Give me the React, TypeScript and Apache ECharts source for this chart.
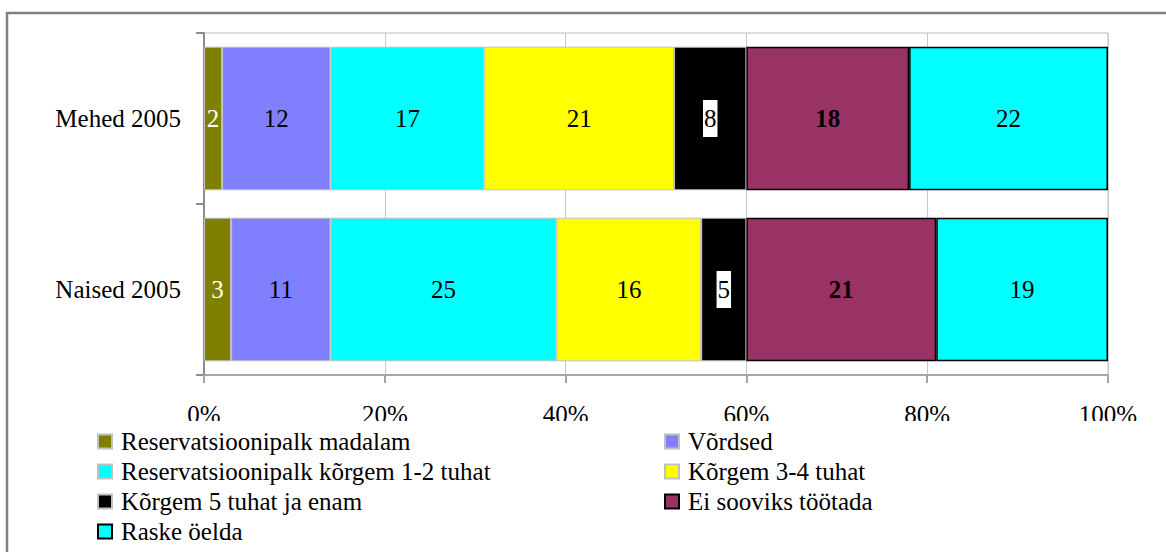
import React, { useEffect, useRef } from "react";
import * as echarts from "echarts";

const categories = ["Mehed 2005", "Naised 2005"];
const seriesNames = [
  "Reservatsioonipalk madalam",
  "Võrdsed",
  "Reservatsioonipalk kõrgem 1-2 tuhat",
  "Kõrgem 3-4 tuhat",
  "Kõrgem 5 tuhat ja enam",
  "Ei sooviks töötada",
  "Raske öelda",
];
const mehedValues = [2, 12, 17, 21, 8, 18, 22];
const naisedValues = [3, 11, 25, 16, 5, 21, 19];
const xTicks = [0, 20, 40, 60, 80, 100];

const colors = ["#808000", "#8080ff", "#00ffff", "#ffff00", "#000000", "#993366", "#00ffff"];
const borderColors = ["#c0c0c0", "#c0c0c0", "#c0c0c0", "#c0c0c0", "#c0c0c0", "#000000", "#000000"];

const FONT = "Liberation Serif";
const FS = 25;

export default function App() {
  const ref = useRef<HTMLDivElement>(null);
  useEffect(() => {
    if (!ref.current) return;
    const chart = echarts.init(ref.current, undefined, { renderer: "svg" });
    const series = seriesNames.map((name, i) => ({
      name,
      type: "bar",
      stack: "total",
      barWidth: "84%",
      data: [mehedValues[i], naisedValues[i]],
      itemStyle: {
        color: colors[i],
        borderColor: borderColors[i],
        borderWidth: i >= 5 ? 1.5 : 1,
      },
      label: {
        show: true,
        position: "inside",
        fontFamily: FONT,
        fontSize: FS,
        color: i === 0 ? "#ffffff" : "#000000",
        fontWeight: i === 5 ? "bold" : "normal",
        ...(i === 4
          ? { backgroundColor: "#ffffff", padding: [6, 1, 6, 1] }
          : {}),
      },
      emphasis: { disabled: true },
    }));
    const legendCommon = {
      orient: "vertical",
      itemWidth: 14,
      itemHeight: 14,
      itemGap: 5,
      padding: 0,
      icon: "rect",
      itemStyle: { borderWidth: 2 },
      textStyle: { fontFamily: FONT, fontSize: FS, color: "#000", padding: [0, 0, 0, 4] },
      selectedMode: false,
    };
    chart.setOption({
      animation: false,
      grid: {
        left: 204,
        right: 58,
        top: 33,
        bottom: 177,
        show: true,
        borderColor: "#c0c0c0",
        borderWidth: 1,
      },
      xAxis: {
        type: "value",
        min: xTicks[0],
        max: xTicks[xTicks.length - 1],
        interval: 20,
        axisLine: { show: true, lineStyle: { color: "#a6a6a6", width: 2 } },
        axisTick: { show: true, length: 8, lineStyle: { color: "#a6a6a6", width: 2 } },
        splitLine: { show: true, lineStyle: { color: "#c8c8c8", width: 1 } },
        axisLabel: {
          formatter: "{value}%",
          fontFamily: FONT,
          fontSize: FS,
          lineHeight: 19,
          color: "#000",
          margin: 30,
        },
      },
      yAxis: {
        type: "category",
        data: categories,
        inverse: true,
        axisLine: { show: true, lineStyle: { color: "#8c8c8c", width: 2 } },
        axisTick: { show: true, length: 8, lineStyle: { color: "#8c8c8c", width: 2 } },
        axisLabel: {
          fontFamily: FONT,
          fontSize: FS,
          color: "#000",
          margin: 23,
        },
      },
      legend: [
        { ...legendCommon, data: [seriesNames[0], seriesNames[2], seriesNames[4], seriesNames[6]], left: 97, top: 429 },
        { ...legendCommon, data: [seriesNames[1], seriesNames[3], seriesNames[5]], left: 664, top: 429 },
      ],
      graphic: [
        {
          type: "rect",
          z: 100,
          shape: { x: 150, y: 421, width: 1016, height: 7 },
          style: { fill: "#ffffff" },
        },
        {
          type: "rect",
          z: 100,
          shape: { x: 7, y: 13, width: 1300, height: 700 },
          style: { fill: "none", stroke: "#808080", lineWidth: 2.5 },
        },
      ],
      series,
    });
    return () => chart.dispose();
  }, []);
  return (
    <div
      ref={ref}
      style={{ position: "absolute", left: 0, top: 0, width: 1166, height: 552, background: "#fff" }}
    />
  );
}
